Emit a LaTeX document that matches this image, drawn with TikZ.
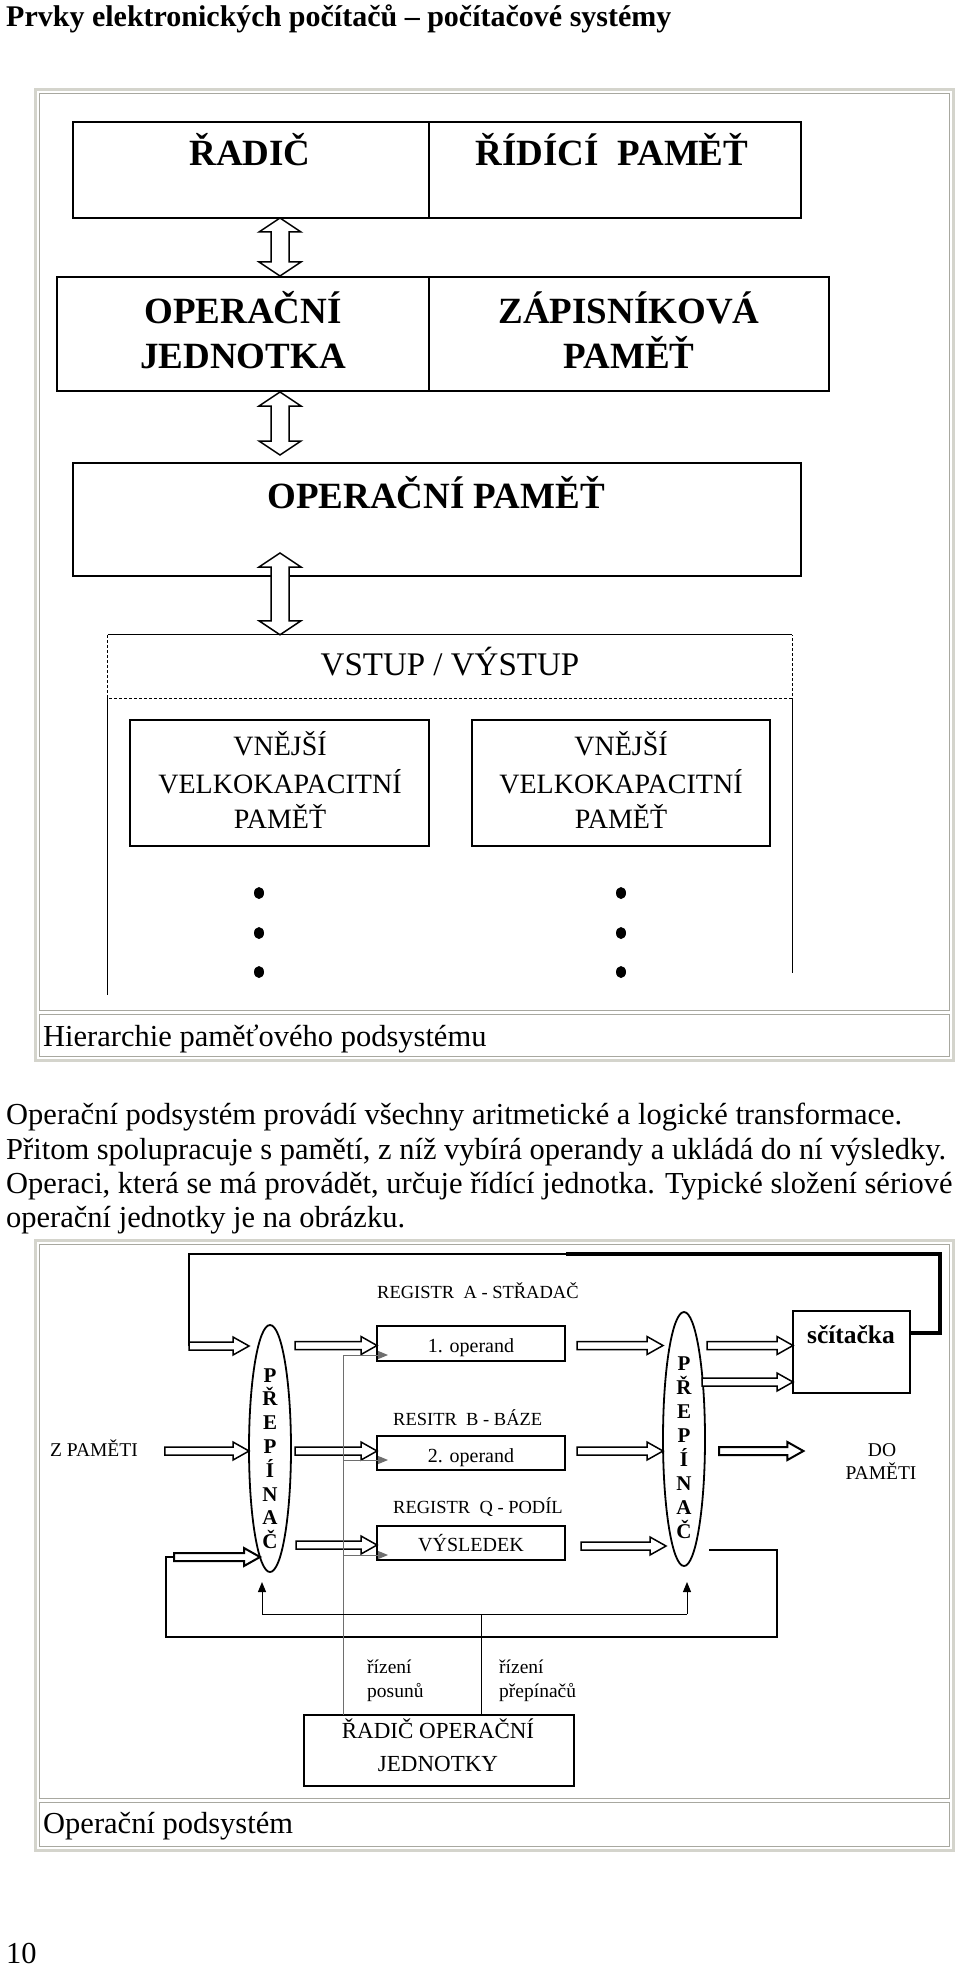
\documentclass[tikz,border=0pt]{standalone}
\usepackage{fontspec}
\setmainfont{Liberation Serif}
\usetikzlibrary{calc,arrows.meta,shapes.geometric}
\newcommand\fsz[1]{\fontsize{#1}{#1}\selectfont}
\definecolor{frA}{RGB}{212,212,204}
\definecolor{frB}{RGB}{168,168,160}
\definecolor{ctlgray}{RGB}{110,110,110}
\begin{document}
\begin{tikzpicture}[x=1pt,y=-1pt,line join=miter,
  box/.style={draw, line width=1.3pt, inner sep=0pt, outer sep=0pt},
  reg/.style={draw, line width=1.8pt, inner sep=0pt, outer sep=0pt},
  ell/.style={draw, ellipse, line width=1.8pt, inner sep=0pt, outer sep=0pt},
  txt/.style={inner sep=0pt, anchor=base},
  txtw/.style={inner sep=0pt, anchor=base west},
  hollow/.style={draw, fill=white, line width=1.5pt},
  harrow/.style={to path={let \p1=(\tikztostart), \p2=(\tikztotarget) in
     (\x1,\y1+4pt) -- (\x2-16pt,\y1+4pt) -- (\x2-16pt,\y1+9pt) -- (\x2,\y1) -- (\x2-16pt,\y1-9pt) -- (\x2-16pt,\y1-4pt) -- (\x1,\y1-4pt) -- cycle}},
  vdarrow/.style={to path={let \p1=(\tikztostart), \p2=(\tikztotarget) in
     (\x1,\y1) -- (\x1+21pt,\y1-14pt) -- (\x1+9pt,\y1-14pt) -- (\x1+9pt,\y2+14pt) -- (\x1+21pt,\y2+14pt) -- (\x1,\y2) -- (\x1-21pt,\y2+14pt) -- (\x1-9pt,\y2+14pt) -- (\x1-9pt,\y1-14pt) -- (\x1-21pt,\y1-14pt) -- cycle}},
  frameo/.style={draw=frA, line width=3pt},
  framei/.style={draw=frB, line width=1pt},
  ctl/.style={draw=ctlgray, line width=1pt},
  thinl/.style={draw=black, line width=1.3pt},
  tip/.style={-{Triangle[length=10pt,width=8pt]}}
]
\useasboundingbox (0,0) rectangle (960,1969);
\fill[white] (0,0) rectangle (960,1969);

% title
\node[txtw, font=\fsz{30}\bfseries] (title) at (6,27) {Prvky elektronických počítačů – počítačové systémy};

% ---------- figure 1 frame
\draw[frameo] (35,90) rectangle (953,1060);
\draw[framei] (39,94) rectangle (949,1010);
\draw[framei] (39,1014) rectangle (949,1056);
\node[txtw, font=\fsz{30.5}] (cap1) at (43,1046) {Hierarchie paměťového podsystému};

% row 1
\node[box, minimum width=356, minimum height=96] (radic) at (251,170) {};
\node[box, minimum width=372, minimum height=96] (ridpam) at (615,170) {};
\node[txt, font=\fsz{37}\bfseries] (t1) at (250,166) {ŘADIČ};
\node[txt, font=\fsz{37}\bfseries] (t2) at (612,166) {ŘÍDÍCÍ\ \ PAMĚŤ};
% row 2
\node[box, minimum width=372, minimum height=114] (opj) at (243,334) {};
\node[box, minimum width=400, minimum height=114] (zap) at (629,334) {};
\node[txt, font=\fsz{37}\bfseries] (t3) at (243,323) {OPERAČNÍ};
\node[txt, font=\fsz{37}\bfseries] (t4) at (243,368) {JEDNOTKA};
\node[txt, font=\fsz{37}\bfseries] (t5) at (629,323) {ZÁPISNÍKOVÁ};
\node[txt, font=\fsz{37}\bfseries] (t6) at (629,368) {PAMĚŤ};
% row 3
\node[box, minimum width=728, minimum height=113] (oppam) at (437,519.5) {};
\node[txt, font=\fsz{37}\bfseries] (t7) at (436,508) {OPERAČNÍ PAMĚŤ};

\coordinate (ax) at (280,0);
\draw[hollow] (radic.south -| ax) to[vdarrow] ($(opj.north -| ax)+(0,-1)$);
\draw[hollow] ($(opj.south -| ax)+(0,1)$) to[vdarrow] ($(oppam.north -| ax)+(0,-8)$);

% vstup / vystup
\node[inner sep=0pt, minimum width=684, minimum height=63] (vstup) at (450,666.5) {};
\draw[line width=1.3pt] (vstup.north west) -- (vstup.north east);
\draw[line width=1.3pt, dash pattern=on 3pt off 2pt] (vstup.north west) -- (vstup.south west) -- (vstup.south east) -- (vstup.north east);
\draw[line width=1.3pt] (vstup.south west) -- ++(0,297);
\draw[line width=1.3pt] (vstup.south east) -- ++(0,275);
\node[txt, font=\fsz{33}] (t8) at (450,675) {VSTUP / VÝSTUP};
\draw[hollow] ($(oppam.south -| ax)+(0,-23)$) to[vdarrow] (vstup.north -| ax);

% external memories
\node[box, minimum width=299, minimum height=126] (vn1) at (279.5,783) {};
\node[box, minimum width=298, minimum height=126] (vn2) at (621,783) {};
\foreach \cx/\nm in {280/a,621/b} {
  \node[txt, font=\fsz{28}] (v1\nm) at (\cx,755) {VNĚJŠÍ};
  \node[txt, font=\fsz{28}] (v2\nm) at (\cx,793) {VELKOKAPACITNÍ};
  \node[txt, font=\fsz{28}] (v3\nm) at (\cx,828) {PAMĚŤ};
}
\foreach \dx in {259,621} {
  \foreach \dy in {893,933,972} {
    \fill (\dx,\dy) ellipse [x radius=5pt, y radius=6pt];
  }
}

% paragraph
\node[txtw, font=\fsz{30.5}] (p1) at (6,1124) {Operační podsystém provádí všechny aritmetické a logické transformace.};
\node[txtw, font=\fsz{30.5}] (p2) at (6,1159) {Přitom spolupracuje s pamětí, z níž vybírá operandy a ukládá do ní výsledky.};
\node[txtw, font=\fsz{30.5}] (p3) at (6,1193) {Operaci, která se má provádět, určuje řídící jednotka. Typické složení sériové};
\node[txtw, font=\fsz{30.5}] (p4) at (6,1227) {operační jednotky je na obrázku.};

% ---------- figure 2 frame
\draw[frameo] (35,1240) rectangle (953,1850);
\draw[framei] (39,1244) rectangle (949,1798);
\draw[framei] (39,1802) rectangle (949,1846);
\node[txtw, font=\fsz{30.5}] (cap2) at (43,1833) {Operační podsystém};

% adder and feedback
\coordinate (fbL) at (189,1346);
\coordinate (fbM) at (566,1254);
\coordinate (fbR) at (940,1254);
\node[reg, minimum width=117, minimum height=82] (sc) at (851.5,1352) {};
\node[txt, font=\fsz{25.5}\bfseries] (sct) at (851,1343) {sčítačka};
\draw[line width=3.5pt] ([yshift=19pt]sc.east) -| (fbR) -- (fbM);
\draw[line width=2.5pt] (fbM) -| (fbL);

% switches
\node[ell, minimum width=42, minimum height=247] (sw1) at (270,1448.5) {};
\node[ell, minimum width=42, minimum height=254] (sw2) at (684,1439) {};
\foreach \L [count=\i from 0] in {P,Ř,E,P,Í,N,A,Č} {
  \node[txt, font=\fsz{21}\bfseries] (sa\i) at (270,{1382+23.8*\i}) {\L};
  \node[txt, font=\fsz{21}\bfseries] (sb\i) at (684,{1370+24*\i}) {\L};
}

% registers
\node[reg, minimum width=188, minimum height=35] (r1) at (471,1343.5) {};
\node[reg, minimum width=188, minimum height=34] (r2) at (471,1453) {};
\node[reg, minimum width=188, minimum height=34] (r3) at (471,1543) {};
\node[txt, font=\fsz{20}] (r1t) at (471,1352) {1. operand};
\node[txt, font=\fsz{20}] (r2t) at (471,1462) {2. operand};
\node[txt, font=\fsz{20}] (r3t) at (471,1551) {VÝSLEDEK};
\node[txtw, font=\fsz{18.5}] (la) at (377,1298) {REGISTR\ \ A - STŘADAČ};
\node[txtw, font=\fsz{18.5}] (lb) at (393,1425) {RESITR\ \ B - BÁZE};
\node[txtw, font=\fsz{18.5}] (lq) at (393,1513) {REGISTR\ \ Q - PODÍL};

% in / out texts
\node[txtw, font=\fsz{19.5}] (zp) at (50,1456) {Z PAMĚTI};
\node[txt, font=\fsz{19.5}] (do1) at (882,1456) {DO};
\node[txt, font=\fsz{19.5}] (do2) at (881,1479) {PAMĚTI};

% hollow arrows
\draw[hollow] (fbL) to[harrow] (sw1.west);
\draw[hollow] ($(zp.base east)+(27,-5)$) to[harrow] (sw1.west);
\draw[hollow] ($(sw1.east |- r1.west)+(4,2)$) to[harrow] (r1.west);
\draw[hollow] ($(sw1.east |- r2.west)+(4,-2)$) to[harrow] (r2.west);
\draw[hollow] ($(sw1.east |- r3.west)+(5,2)$) to[harrow] (r3.west);
\draw[hollow] ($(r1.east)+(12,2)$) to[harrow] (sw2.west);
\draw[hollow] ($(r2.east)+(12,-2)$) to[harrow] (sw2.west);
\draw[hollow] ($(r3.east)+(16,3)$) to[harrow] ($(sw2.west)+(3,0)$);
\draw[hollow] ($(sw2.east |- r1.east)+(2,2)$) to[harrow] (sc.west);
\draw[hollow] ($(sw2.east)+(-3,-57)$) to[harrow] (sc.west);
\draw[hollow, line width=2pt] ($(sw2.east)+(14,12)$) to[harrow] ($(do2.west)+(-42,0)$);

% lower feedback loop
\coordinate (lpR) at (777,1637);
\coordinate (lpL) at (166,1557);
\coordinate (fb2) at (174,1557);
\draw[thinl] ($(sw2.east)+(4,111)$) -| (lpR) -| (lpL) -- (fb2);
\draw[hollow, line width=2pt] (fb2) to[harrow] ($(sw1.center)+(-10,0)$);

% controller
\node[reg, minimum width=270, minimum height=71] (rad) at (439,1750.5) {};
\node[txt, font=\fsz{23}] (radt1) at (438,1738) {ŘADIČ OPERAČNÍ};
\node[txt, font=\fsz{23}] (radt2) at (438,1771) {JEDNOTKY};

\coordinate (cv) at (343,1355);
\draw[ctl] (cv) -- (cv |- rad.north);
\coordinate (r1b) at ($(r1.south west)+(11,-6)$);
\coordinate (r2b) at ($(r2.south west)+(11,-10)$);
\coordinate (r3b) at ($(r3.south west)+(11,-5)$);
\draw[ctl, tip] (cv) -- (r1b);
\draw[ctl, tip] (cv |- r2b) -- (r2b);
\draw[ctl, tip] (cv |- r3b) -- (r3b);

\coordinate (hL) at (262,1614);
\coordinate (hR) at (687,1614);
\coordinate (cv2) at (481,1614);
\draw[thinl, line width=1pt] (hL) -- (hR);
\draw[thinl, line width=1pt, tip] (hL) -- ($(sw1.south)+(-8,10)$);
\draw[thinl, line width=1pt, tip] (hR) -- ($(sw2.south)+(3,16)$);
\draw[thinl, line width=1pt] (cv2) -- (cv2 |- rad.north);

\node[txtw, font=\fsz{19.5}] (c1) at (367,1673) {řízení};
\node[txtw, font=\fsz{19.5}] (c2) at (367,1697) {posunů};
\node[txtw, font=\fsz{19.5}] (c3) at (499,1673) {řízení};
\node[txtw, font=\fsz{19.5}] (c4) at (499,1697) {přepínačů};

% page number
\node[txtw, font=\fsz{30.5}] (pg) at (6,1963) {10};
\end{tikzpicture}
\end{document}
